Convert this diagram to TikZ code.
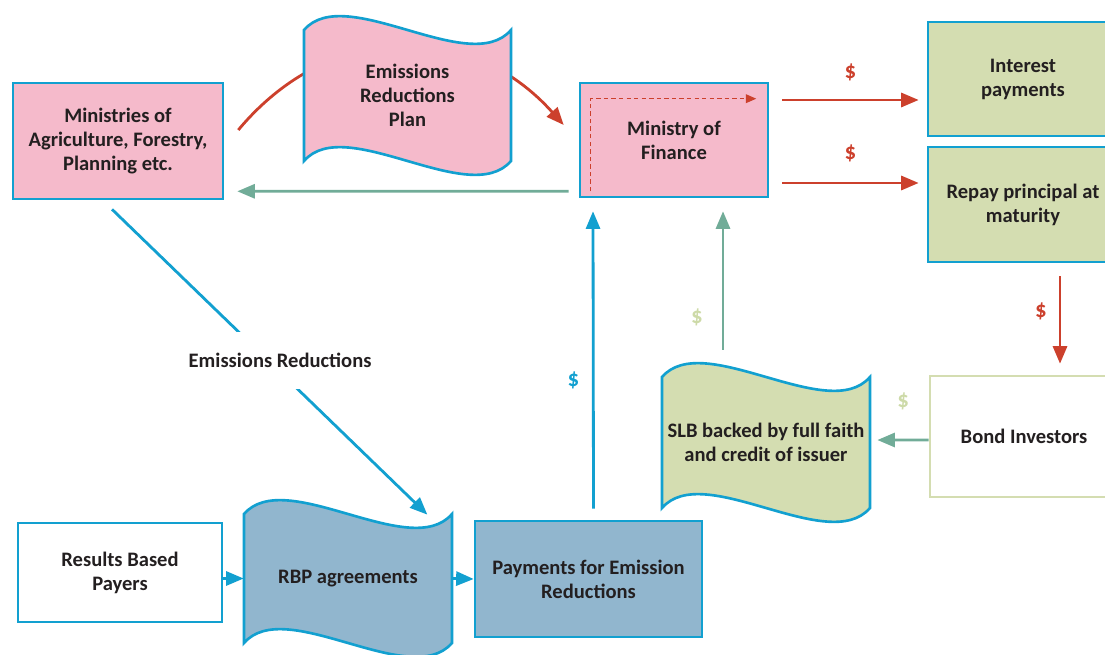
\documentclass[tikz,border=0pt]{standalone}
\usepackage{fontspec}
\setmainfont{Carlito}
\usetikzlibrary{arrows.meta}
\definecolor{pinkfill}{RGB}{245,186,203}
\definecolor{edgeblue}{RGB}{18,160,208}
\definecolor{greenfill}{RGB}{212,221,177}
\definecolor{bluefill}{RGB}{145,182,206}
\definecolor{flowred}{RGB}{204,64,44}
\definecolor{flowteal}{RGB}{113,172,152}
\definecolor{lightdollar}{RGB}{205,218,168}
\definecolor{inkdark}{RGB}{35,31,32}
\newcommand{\wavebox}[7]{%
\pgfmathsetmacro{\wwid}{#4-#2}
\pgfmathsetmacro{\wcm}{0.02*(#4-#2)}
\pgfmathsetmacro{\hcm}{0.02*(#5-#3)}
\draw[edge,fill=#6] (#2,#3) .. controls ({#2+0.2*\wwid},{#3-48}) and ({#2+0.8*\wwid},{#3+48}) .. (#4,#3) -- (#4,#5) .. controls ({#2+0.8*\wwid},{#5+48}) and ({#2+0.2*\wwid},{#5-48}) .. (#2,#5) -- cycle;
\node[txt,minimum width=\wcm cm,minimum height=\hcm cm] (#1) at ({(#2+#4)/2},{(#3+#5)/2}) {#7};
}
\begin{document}
\begin{tikzpicture}[x=0.02cm,y=-0.02cm,
edge/.style={draw=edgeblue,line width=1.5pt},
txt/.style={inner sep=0pt,align=center,font=\fontsize{11.7}{13.7}\selectfont\bfseries,text=inkdark},
box/.style={edge,txt,rectangle},
flow/.style={line width=1.6pt,-{Triangle[length=10pt,width=8pt]}},
money/.style={inner sep=0pt,font=\fontsize{13}{14}\selectfont\bfseries}]
\useasboundingbox (0,0) rectangle (1105,655);
\node[box,fill=pinkfill,minimum width=4.2cm,minimum height=2.32cm] (min) at (118,141) {Ministries of\\Agriculture, Forestry,\\Planning etc.};
\node[box,fill=pinkfill,minimum width=3.76cm,minimum height=2.28cm] (fin) at (674,140) {Ministry of\\Finance};
\node[box,fill=greenfill,minimum width=3.8cm,minimum height=2.28cm] (int) at (1023,79) {Interest\\payments};
\node[box,fill=greenfill,minimum width=3.8cm,minimum height=2.3cm] (rep) at (1023,204.5) {Repay principal at\\maturity};
\node[box,draw=greenfill,fill=white,minimum width=3.76cm,minimum height=2.42cm] (bond) at (1024,436.5) {Bond Investors};
\node[box,fill=white,minimum width=4.08cm,minimum height=1.98cm] (res) at (120,572.5) {Results Based\\Payers};
\node[box,fill=bluefill,minimum width=4.54cm,minimum height=2.32cm] (pay) at (588.5,579) {Payments for Emission\\Reductions};
\draw[flow,draw=flowred] ([shift={(14,-11)}]min.east) .. controls (330,20) and (470,20) .. ([shift={(-15,-15)}]fin.west);
\wavebox{plan}{304}{30}{511}{161}{pinkfill}{Emissions\\Reductions\\Plan}
\wavebox{slb}{662}{377}{870}{508}{greenfill}{SLB backed by full faith\\and credit of issuer}
\wavebox{rbp}{244}{514}{452}{643}{bluefill}{RBP agreements}
\draw[flow,draw=flowteal] ([shift={(-10,-7)}]fin.south west) -- ([shift={(13,-9)}]min.south east);
\draw[flow,draw=edgeblue] ([shift={(-6,9)}]min.south) -- node[txt,pos=0.495,xshift=0.24cm,fill=white,inner xsep=2pt,inner ysep=12pt] (er) {Emissions Reductions} ([shift={(-25,1)}]rbp.north east);
\draw[flow,draw=edgeblue] (res.east |- rbp.west) -- (rbp.west);
\draw[flow,draw=edgeblue] (rbp.east) -- (pay.west);
\draw[flow,draw=edgeblue] ([shift={(5,-11)}]pay.north) -- node[money,text=edgeblue,pos=0.43,xshift=-0.4cm] (d1) {\$} ([shift={(-81,13)}]fin.south);
\draw[flow,draw=flowteal] ([shift={(-43,-27)}]slb.north) -- node[money,text=lightdollar,pos=0.23,xshift=-0.52cm] (d2) {\$} ([shift={(49,13)}]fin.south);
\draw[flow,draw=flowteal] ([shift={(0,3.5)}]bond.west) -- node[money,text=lightdollar,yshift=0.78cm] (d3) {\$} ([shift={(7,-2.5)}]slb.east);
\draw[flow,draw=flowred] ([shift={(37,13)}]rep.south) -- node[money,text=flowred,pos=0.4,xshift=-0.38cm] (d4) {\$} ([shift={(36,-11)}]bond.north);
\draw[flow,draw=flowred] ([shift={(13,-40)}]fin.east) -- node[money,text=flowred,yshift=0.56cm] (d5) {\$} ([shift={(-8,21)}]int.west);
\draw[flow,draw=flowred] ([shift={(13,43)}]fin.east) -- node[money,text=flowred,yshift=0.6cm] (d6) {\$} ([shift={(-8,-21.5)}]rep.west);
\draw[draw=flowred,line width=0.8pt,dash pattern=on 2.5pt off 1.8pt,-{Triangle[length=6pt,width=5pt]}] ([shift={(12,-7)}]fin.south west) |- ([shift={(-13,17)}]fin.north east);
\end{tikzpicture}
\end{document}
